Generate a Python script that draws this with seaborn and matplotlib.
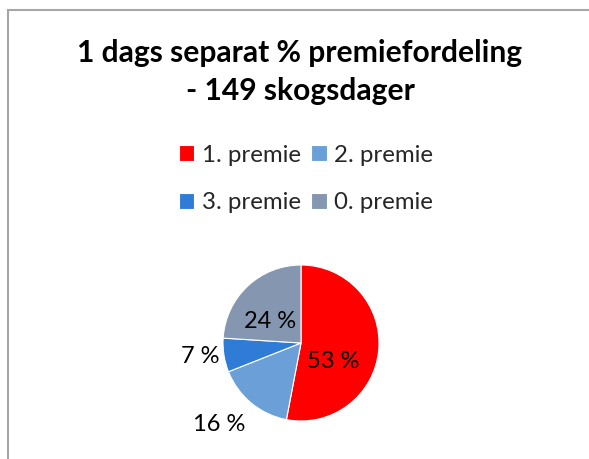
import matplotlib
matplotlib.use("Agg")
import matplotlib.pyplot as plt
import matplotlib.patches as patches
import seaborn as sns

sns.set_theme(style="white")
plt.rcParams['font.family'] = ['Lato', 'DejaVu Sans']

# data
labels = ['1. premie', '2. premie', '3. premie', '0. premie']
values = [53, 16, 7, 24]
colors = ['#FF0000', '#6A9FD8', '#2E7CD6', '#8496B0']
# label spots (pie radius = 1), Excel "best fit" placement
label_pos = [(0.41, -0.24), (-1.05, -1.05), (-1.29, -0.17), (-0.40, 0.27)]

W, H = 589, 459
fig = plt.figure(figsize=(W / 100, H / 100), dpi=100)

# chart frame (left + top edges visible)
fig.patches.append(patches.Rectangle((8 / W, -0.1), 1.2, 1.1 - 10 / H,
                                     transform=fig.transFigure, fill=False,
                                     edgecolor='#A6A6A6', linewidth=1.5))

fig.text(300 / W, 1 - 53 / H, '1 dags separat % premiefordeling',
         ha='center', va='center', fontsize=21.6, fontweight='bold', color='black')
fig.text(300 / W, 1 - 91 / H, '- 149 skogsdager',
         ha='center', va='center', fontsize=21.6, fontweight='bold', color='black')

cx, cy, r = 301, 343, 78
ax = fig.add_axes([(cx - r) / W, (H - cy - r) / H, 2 * r / W, 2 * r / H])
wedges, _ = ax.pie(values, colors=colors, startangle=90, counterclock=False,
                   wedgeprops=dict(linewidth=0.8, edgecolor='white'))
ax.set_xlim(-1, 1)
ax.set_ylim(-1, 1)
ax.axis('off')

for v, (x, y) in zip(values, label_pos):
    ax.text(x, y, f'{v} %', ha='center', va='center', fontsize=17, color='black')

# legend fills column-wise, so reorder to read row-wise like the original
order = [0, 2, 1, 3]
fig.legend([wedges[i] for i in order], [labels[i] for i in order],
           loc='center', bbox_to_anchor=(306 / W, 1 - 179 / H),
           ncol=2, frameon=False, fontsize=17.3, handlelength=0.65, handleheight=0.65,
           handletextpad=0.3, columnspacing=0.45, labelspacing=1.1)

plt.savefig('out.png', dpi=100)
